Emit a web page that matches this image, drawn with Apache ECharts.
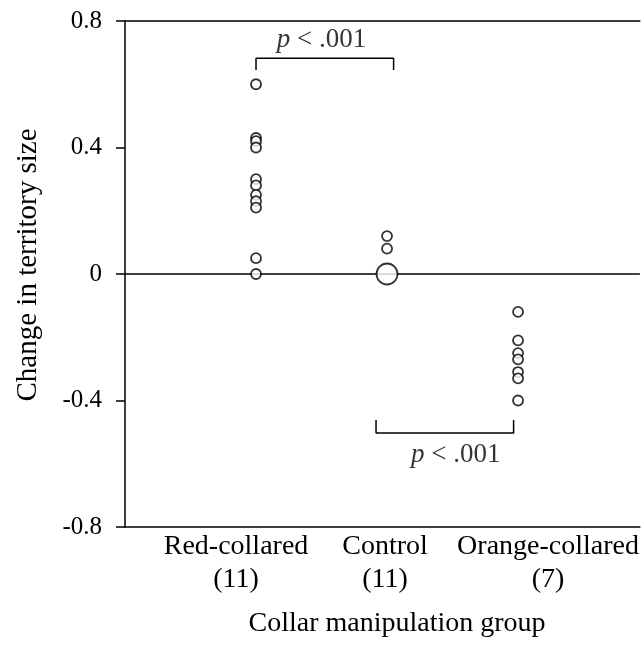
<!DOCTYPE html>
<html><head><meta charset="utf-8">
<script src="https://cdn.jsdelivr.net/npm/echarts@6/dist/echarts.min.js"></script>
<style>html,body{margin:0;padding:0;background:#fff}#c{width:642px;height:650px}</style>
</head><body><div id="c"></div>
<script>
// ---- data ----
const groups = ['Red-collared', 'Control', 'Orange-collared'];
const groupN = [11, 11, 7];
const redCollared = [0.60, 0.43, 0.42, 0.40, 0.30, 0.28, 0.25, 0.23, 0.21, 0.05, 0.00];
const control = [0.12, 0.08, 0, 0, 0, 0, 0, 0, 0, 0, 0];
const orangeCollared = [-0.12, -0.21, -0.25, -0.27, -0.31, -0.33, -0.40];
const yTicks = [-0.8, -0.4, 0, 0.4, 0.8];
// significance brackets (data coordinates) and their labels
const bracketTop = [[1, 0.645], [1, 0.682], [2.05, 0.682], [2.05, 0.645]];
const bracketBottom = [[1.916, -0.462], [1.916, -0.503], [2.966, -0.503], [2.966, -0.462]];
const pLabelPos = [[1.5, 0.74], [2.525, -0.572]];

const FONT = "'Liberation Serif', 'Times New Roman', serif";

function pointsFor(vals, x) {
  const counts = {};
  vals.forEach(v => { counts[v] = (counts[v] || 0) + 1; });
  const out = [];
  Object.keys(counts).forEach(k => out.push([x, Number(k), counts[k]]));
  return out;
}
const allPoints = [].concat(pointsFor(redCollared, 1), pointsFor(control, 2), pointsFor(orangeCollared, 3));

const labelStyles = ['g0', 'g1', 'g2'];
const labelBase = {color: '#000', fontFamily: FONT, fontSize: 28, lineHeight: 33};

const chart = echarts.init(document.getElementById('c'), null, {renderer: 'canvas'});
chart.setOption({
  animation: false,
  backgroundColor: '#fff',
  grid: {left: 125, right: 0, top: 21, bottom: 123, containLabel: false},
  xAxis: [{
    type: 'value', min: 0, max: 3.93, interval: 1, position: 'bottom',
    axisLine: {show: true, onZero: false, lineStyle: {color: '#000', width: 1.5}},
    axisTick: {show: false},
    splitLine: {show: false},
    axisLabel: {
      margin: 3, color: '#000', fontFamily: FONT, fontSize: 28, lineHeight: 33,
      showMaxLabel: false, showMinLabel: false, hideOverlap: false,
      formatter: v => {
        const i = Math.round(v) - 1;
        if (Math.abs(v - Math.round(v)) > 1e-6 || !groups[i]) return '';
        const s = labelStyles[i];
        return '{' + s + '|' + groups[i] + '}\n{' + s + '|(' + groupN[i] + ')}';
      },
      rich: {
        g0: Object.assign({padding: [0, 40, 0, 0]}, labelBase),
        g1: Object.assign({padding: [0, 4, 0, 0]}, labelBase),
        g2: Object.assign({padding: [0, 0, 0, 60]}, labelBase)
      }
    }
  }, {
    type: 'value', min: 0, max: 3.93, position: 'top',
    axisLine: {show: true, onZero: false, lineStyle: {color: '#000', width: 1.5}},
    axisTick: {show: false}, axisLabel: {show: false}, splitLine: {show: false}
  }],
  yAxis: {
    type: 'value', min: -0.8, max: 0.8, interval: 0.4,
    axisLine: {show: true, lineStyle: {color: '#000', width: 1.5}},
    axisTick: {show: true, length: 9, lineStyle: {color: '#000', width: 1.5}},
    splitLine: {show: false},
    axisLabel: {
      margin: 23, color: '#000', fontFamily: FONT, fontSize: 25,
      formatter: v => {
        const t = yTicks.find(t => Math.abs(t - v) < 1e-6);
        return t === undefined ? '' : (t === 0 ? '0' : String(t));
      }
    }
  },
  series: [
    {
      type: 'line', data: [], z: 1,
      markLine: {
        silent: true, symbol: 'none', label: {show: false},
        lineStyle: {color: '#000', width: 1.5, type: 'solid'},
        data: [{yAxis: 0}]
      }
    },
    {
      type: 'line', data: bracketTop, symbol: 'none', z: 3,
      lineStyle: {color: '#000', width: 1.5}
    },
    {
      type: 'line', data: bracketBottom, symbol: 'none', z: 3,
      lineStyle: {color: '#000', width: 1.5}
    },
    {
      type: 'scatter', z: 5,
      data: allPoints,
      symbol: 'circle',
      symbolSize: d => d[2] > 1 ? 21 : 10,
      itemStyle: {color: '#fff', borderColor: '#000', borderWidth: 1.8}
    },
    {
      type: 'scatter', z: 6, symbolSize: 0,
      data: pLabelPos,
      label: {
        show: true, position: 'inside', color: '#000',
        fontFamily: FONT, fontSize: 27,
        formatter: () => '{i|p} < .001',
        rich: {i: {fontStyle: 'italic', fontFamily: FONT, fontSize: 27, color: '#000'}}
      }
    }
  ],
  graphic: [
    {
      type: 'text', x: 397, y: 624,
      style: {text: 'Collar manipulation group', font: "28px " + FONT, fill: '#000', textAlign: 'center', textVerticalAlign: 'middle'}
    },
    {
      type: 'text', x: 28, y: 265, rotation: Math.PI / 2,
      style: {text: 'Change in territory size', font: "29px " + FONT, fill: '#000', textAlign: 'center', textVerticalAlign: 'middle'}
    }
  ]
});
</script>
</body></html>
